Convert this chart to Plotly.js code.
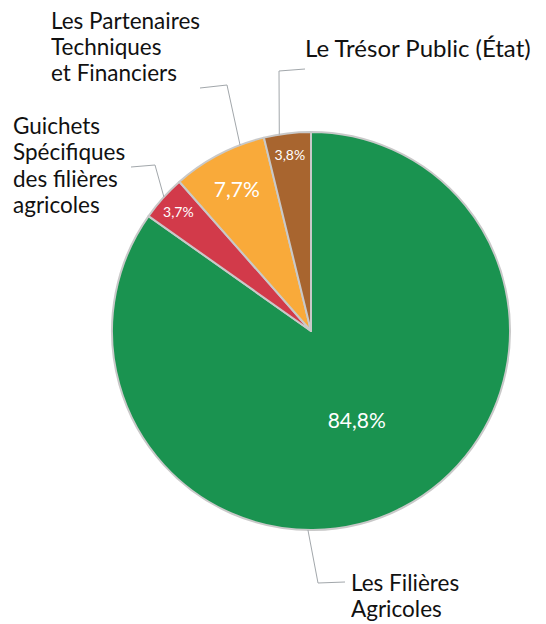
<!DOCTYPE html>
<html><head><meta charset="utf-8">
<script src="https://cdn.plot.ly/plotly-3.0.1.min.js"></script>
<style>body{margin:0;background:#fff}#c{width:546px;height:624px}</style>
</head><body><div id="c"></div>
<script>
const categories = ["Les Filières Agricoles", "Guichets Spécifiques des filières agricoles", "Les Partenaires Techniques et Financiers", "Le Trésor Public (État)"];
const labelLines = [
  ["Les Filières", "Agricoles"],
  ["Guichets", "Spécifiques", "des filières", "agricoles"],
  ["Les Partenaires", "Techniques", "et Financiers"],
  ["Le Trésor Public (État)"]
];
const values = [84.8, 3.7, 7.7, 3.8];
const colors = ["#1a9350", "#d23a4a", "#f9aa3a", "#a8652f"];
const textSizes = [21, 14, 21, 14];

const W = 546, H = 624;
const cx = 311, cy = 331, R = 199;
const px = x => x / W, py = y => 1 - y / H;
const FONT = "Lato, 'Open Sans', sans-serif";

// label blocks: left x, first baseline, line step, font size; leader elbow points; position along slice
const labelPos = [
  {x: 351, base: 591, step: 25.5, size: 22.5, elbow: [[318, 583], [345, 582]], frac: 0.5925},
  {x: 13, base: 133, step: 26.3, size: 22.5, elbow: [[155, 165], [131, 167]], frac: 0.53},
  {x: 51, base: 28, step: 26, size: 22.5, elbow: [[227, 85], [200, 88]], frac: 0.74},
  {x: 305, base: 56, step: 30, size: 24, elbow: [[279, 71], [305, 69]], frac: 0.33}
];

const total = values.reduce((a, b) => a + b, 0);
let cum = 0;
const shapes = [], annotations = [];
values.forEach((v, i) => {
  const L = labelPos[i];
  const a = (cum + v * L.frac) / total * 2 * Math.PI; // clockwise from top
  cum += v;
  const sx = cx + R * Math.sin(a), sy = cy - R * Math.cos(a);
  const pts = [[sx, sy]].concat(L.elbow);
  const path = pts.map((p, k) => (k ? "L" : "M") + px(p[0]) + "," + py(p[1])).join(" ");
  shapes.push({type: "path", xref: "paper", yref: "paper", path: path,
    line: {color: "#a2a7ab", width: 1}});
  labelLines[i].forEach((t, k) => {
    const baseline = L.base + k * L.step;
    annotations.push({xref: "paper", yref: "paper", x: px(L.x), y: py(baseline - 0.36 * L.size),
      xanchor: "left", yanchor: "middle", align: "left", valign: "middle", showarrow: false,
      height: Math.floor(L.step), borderpad: 0, borderwidth: 0,
      text: t, font: {family: FONT, size: L.size, color: "#111"}});
  });
});

const trace = {
  type: "pie", values: values, labels: categories, sort: false, direction: "clockwise", rotation: 0,
  marker: {colors: colors, line: {color: "#c9c9c9", width: 2}},
  texttemplate: "%{percent:.1%}", textposition: "inside",
  insidetextorientation: "horizontal",
  insidetextfont: {family: FONT, size: textSizes, color: "#ffffff"},
  hoverinfo: "none",
  domain: {x: [px(cx - R), px(cx + R)], y: [py(cy + R), py(cy - R)]}
};

Plotly.newPlot("c", [trace], {
  width: W, height: H, margin: {l: 0, r: 0, t: 0, b: 0}, showlegend: false,
  separators: ", ", paper_bgcolor: "#fff", shapes: shapes, annotations: annotations
}, {displayModeBar: false, staticPlot: true});
</script></body></html>
